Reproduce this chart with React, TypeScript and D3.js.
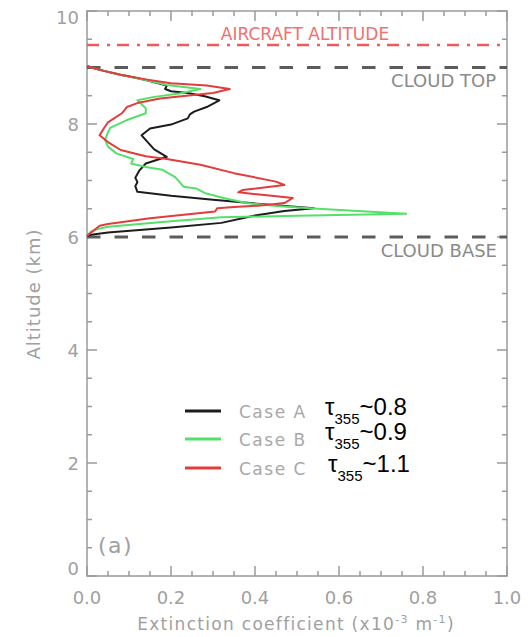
import React from "react";
import * as d3 from "d3";

type P = [number, number];

// [extinction (x10^-3 m^-1), altitude (km)]
const caseA: P[] = [
  [0.0, 6.02], [0.01, 6.04], [0.05, 6.08], [0.2, 6.17], [0.32, 6.25], [0.4, 6.38], [0.47, 6.46], [0.54, 6.51],
  [0.42, 6.58], [0.3, 6.66], [0.2, 6.73], [0.12, 6.8], [0.115, 6.9], [0.12, 6.97], [0.115, 7.05], [0.125, 7.18],
  [0.14, 7.3], [0.19, 7.42], [0.16, 7.55], [0.13, 7.8], [0.15, 7.92], [0.2, 7.99], [0.24, 8.1], [0.245, 8.17],
  [0.255, 8.22], [0.285, 8.3], [0.315, 8.42], [0.28, 8.49], [0.24, 8.55], [0.2, 8.58], [0.186, 8.62], [0.19, 8.68],
  [0.14, 8.78], [0.08, 8.87], [0.04, 8.94], [0.01, 9.0], [0.0, 9.03],
];
const caseB: P[] = [
  [0.0, 6.02], [0.01, 6.1], [0.03, 6.15], [0.05, 6.18], [0.2, 6.28], [0.32, 6.35], [0.47, 6.37], [0.76, 6.41],
  [0.55, 6.5], [0.45, 6.55], [0.38, 6.6], [0.325, 6.69], [0.28, 6.78], [0.26, 6.86], [0.23, 6.89], [0.21, 7.06],
  [0.18, 7.19], [0.14, 7.24], [0.105, 7.3], [0.11, 7.38], [0.07, 7.48], [0.05, 7.6], [0.043, 7.72], [0.05, 7.85],
  [0.055, 7.93], [0.095, 8.07], [0.14, 8.19], [0.14, 8.28], [0.12, 8.42], [0.16, 8.48], [0.22, 8.54], [0.27, 8.62],
  [0.19, 8.69], [0.14, 8.78], [0.08, 8.87], [0.04, 8.94], [0.01, 9.0], [0.0, 9.03],
];
const caseC: P[] = [
  [0.0, 6.02], [0.01, 6.08], [0.03, 6.2], [0.05, 6.23], [0.15, 6.33], [0.305, 6.45], [0.31, 6.51], [0.35, 6.53],
  [0.42, 6.56], [0.47, 6.6], [0.49, 6.69], [0.44, 6.73], [0.36, 6.79], [0.37, 6.83], [0.47, 6.92], [0.45, 6.98],
  [0.35, 7.13], [0.27, 7.28], [0.19, 7.38], [0.14, 7.43], [0.08, 7.54], [0.05, 7.68], [0.03, 7.8], [0.04, 7.92],
  [0.05, 8.03], [0.083, 8.19], [0.095, 8.3], [0.12, 8.37], [0.174, 8.45], [0.3, 8.55], [0.34, 8.62], [0.285, 8.68],
  [0.2, 8.72], [0.14, 8.79], [0.08, 8.87], [0.04, 8.94], [0.01, 9.0], [0.0, 9.03],
];

const xTicks = [0, 0.2, 0.4, 0.6, 0.8, 1.0];
const yTicks = [0, 2, 4, 6, 8, 10];
const cloudTop = 9.0;
const cloudBase = 6.0;
const aircraftAlt = 9.4;

const legend = [
  { name: "Case A", tau: "~0.8", color: "#1c1c1c", data: caseA },
  { name: "Case B", tau: "~0.9", color: "#55e06a", data: caseB },
  { name: "Case C", tau: "~1.1", color: "#e23c3c", data: caseC },
];

export default function App() {
  const x = d3.scaleLinear().domain([0, 1]).range([87, 507]);
  const y = d3.scaleLinear().domain([0, 10]).range([576, 11]);
  const line = d3.line<P>().x((d) => x(d[0])).y((d) => y(d[1]));
  const axisColor = "#9a9a9a";
  const font = "DejaVu Sans, sans-serif";

  const xMinor = d3.range(0, 1.0001, 0.05);
  const yMinor = d3.range(0, 10.0001, 0.5);
  const isMajorX = (v: number) => Math.abs(v * 5 - Math.round(v * 5)) < 1e-6;
  const isMajorY = (v: number) => Math.abs(v / 2 - Math.round(v / 2)) < 1e-6;

  return (
    <svg width={528} height={637} style={{ position: "absolute", left: 0, top: 0, background: "#fff" }}>
      {/* ticks */}
      {xMinor.map((v, i) => {
        const L = isMajorX(v) ? 10 : 5;
        return (
          <g key={"xt" + i} stroke={axisColor} strokeWidth={1.5}>
            <line x1={x(v)} x2={x(v)} y1={y(0)} y2={y(0) - L} />
            <line x1={x(v)} x2={x(v)} y1={y(10)} y2={y(10) + L} />
          </g>
        );
      })}
      {yMinor.map((v, i) => {
        const L = isMajorY(v) ? 10 : 5;
        return (
          <g key={"yt" + i} stroke={axisColor} strokeWidth={1.5}>
            <line x1={x(0)} x2={x(0) + L} y1={y(v)} y2={y(v)} />
            <line x1={x(1)} x2={x(1) - L} y1={y(v)} y2={y(v)} />
          </g>
        );
      })}
      <rect x={x(0)} y={y(10)} width={x(1) - x(0)} height={y(0) - y(10)} fill="none" stroke={axisColor} strokeWidth={1.5} />

      {/* tick labels */}
      {xTicks.map((v) => (
        <text key={"xl" + v} x={x(v)} y={604} textAnchor="middle" fontFamily={font} fontSize={18} fill="#a0a0a0">
          {v.toFixed(1)}
        </text>
      ))}
      {yTicks.map((v) => (
        <text key={"yl" + v} x={79} y={Math.min(575, Math.max(24, y(v) + 6.5))} textAnchor="end" fontFamily={font} fontSize={18} fill="#a0a0a0">
          {v}
        </text>
      ))}

      {/* axis titles */}
      <text x={296} y={630} textAnchor="middle" fontFamily={font} fontSize={17} letterSpacing={1.3} fill="#a0a0a0">
        Extinction coefficient (x10<tspan dy={-7} fontSize={11}>-3</tspan>
        <tspan dy={7}> m</tspan>
        <tspan dy={-7} fontSize={11}>-1</tspan>
        <tspan dy={7}>)</tspan>
      </text>
      <text transform="translate(40,294) rotate(-90)" textAnchor="middle" fontFamily={font} fontSize={18} letterSpacing={1} fill="#a0a0a0">
        Altitude (km)
      </text>

      {/* reference lines */}
      <line x1={x(0)} x2={x(1)} y1={y(aircraftAlt)} y2={y(aircraftAlt)} stroke="#f05a5a" strokeWidth={2.5} strokeDasharray="12 8 3 7" />
      <line x1={x(0)} x2={x(1)} y1={y(cloudTop)} y2={y(cloudTop)} stroke="#5c5c5c" strokeWidth={2.8} strokeDasharray="13.5 14" />
      <line x1={x(0)} x2={x(1)} y1={y(cloudBase)} y2={y(cloudBase)} stroke="#5c5c5c" strokeWidth={2.8} strokeDasharray="13.5 14" />
      <text x={305} y={40} textAnchor="middle" fontFamily={font} fontSize={17} fill="#f07070">AIRCRAFT ALTITUDE</text>
      <text x={496} y={87} textAnchor="end" fontFamily={font} fontSize={18} fill="#8a8a8a">CLOUD TOP</text>
      <text x={497} y={257} textAnchor="end" fontFamily={font} fontSize={18} fill="#8a8a8a">CLOUD BASE</text>

      {/* curves */}
      {legend.map((s) => (
        <path key={s.name} d={line(s.data) || ""} fill="none" stroke={s.color} strokeWidth={2} strokeLinejoin="round" />
      ))}

      {/* legend */}
      {legend.map((s, i) => {
        const yy = [411, 439, 468][i];
        const bl = [415, 440, 472][i];
        const tx = [325, 325, 328][i];
        return (
          <g key={"lg" + i}>
            <line x1={185} x2={221} y1={yy} y2={yy} stroke={s.color} strokeWidth={3} />
            <text x={239} y={yy + 6.5} fontFamily={font} fontSize={17} letterSpacing={1.5} fill="#a8a8a8">{s.name}</text>
            <text x={tx} y={bl} fontFamily="Liberation Sans, Arial, sans-serif" fill="#000">
              <tspan fontSize={24}>τ</tspan>
              <tspan fontSize={15} dy={9}>355</tspan>
              <tspan fontSize={24} dy={-9}>{s.tau}</tspan>
            </text>
          </g>
        );
      })}

      <text x={98} y={553} fontFamily={font} fontSize={22} letterSpacing={1.5} fill="#a0a0a0">(a)</text>
    </svg>
  );
}
